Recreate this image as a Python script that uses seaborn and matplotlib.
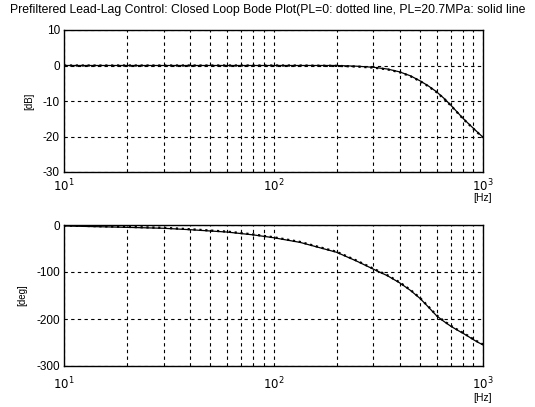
import matplotlib
matplotlib.use("Agg")
import matplotlib.pyplot as plt
import seaborn as sns
import numpy as np
import pandas as pd
from matplotlib.ticker import LogLocator, FixedLocator, FixedFormatter, NullFormatter

freq_hz = [10, 20, 30, 40, 60, 80, 100, 134, 200, 250, 300, 350, 400, 450, 500, 550, 600, 650, 700, 750, 800, 850, 900, 950, 1000]
mag_solid_db = [0, 0, 0, 0, 0, 0, 0, 0, 0, -0.2, -0.5, -1.0, -1.8, -2.9, -4.3, -5.8, -7.4, -9.2, -11.1, -13.0, -14.8, -16.3, -17.7, -19.0, -20.2]
mag_dotted_db = [0, 0, 0, 0, 0, 0, 0, 0, -0.1, -0.3, -0.6, -1.1, -1.9, -3.0, -4.4, -5.9, -7.5, -9.3, -11.2, -13.1, -14.9, -16.4, -17.8, -19.1, -20.3]
phase_solid_deg = [-2, -5, -7, -10, -15, -21, -27, -37, -58, -77, -94, -108, -123, -139, -156, -175, -193, -205, -215, -223, -230, -237, -244, -250, -255]
phase_dotted_deg = [-1, -4, -6, -9, -14, -20, -26, -36, -57, -76, -93, -107, -122, -138, -155, -174, -192, -204, -214, -222, -229, -236, -243, -249, -254]

title = "Prefiltered Lead-Lag Control: Closed Loop Bode Plot(PL=0: dotted line, PL=20.7MPa: solid line"
mag_yticks = [10, 0, -10, -20, -30]
phase_yticks = [0, -100, -200, -300]
xtick_vals = [10, 100, 1000]
xtick_labels = [r"$10^1$", r"$10^2$", r"$10^3$"]

sns.set_theme(style="white")
plt.rcParams['font.family'] = ['Liberation Sans', 'DejaVu Sans']

fig = plt.figure(figsize=(5.35, 4.07), dpi=100)
W, H = 535, 407
ax1 = fig.add_axes([64 / W, 1 - 172 / H, 419 / W, 142 / H])
ax2 = fig.add_axes([64 / W, 1 - 366 / H, 419 / W, 141 / H])

df = pd.DataFrame({"f": freq_hz, "ms": mag_solid_db, "md": mag_dotted_db,
                   "ps": phase_solid_deg, "pd": phase_dotted_deg})

sns.lineplot(data=df, x="f", y="md", ax=ax1, color="black", linestyle=":", linewidth=1.6)
sns.lineplot(data=df, x="f", y="ms", ax=ax1, color="black", linestyle="-", linewidth=0.9)
sns.lineplot(data=df, x="f", y="pd", ax=ax2, color="black", linestyle=":", linewidth=1.6)
sns.lineplot(data=df, x="f", y="ps", ax=ax2, color="black", linestyle="-", linewidth=0.9)

for ax, yt, ylab, hz_y, xpad in [(ax1, mag_yticks, "[dB]", -0.185, 4), (ax2, phase_yticks, "[deg]", -0.225, 7)]:
    ax.set_xscale("log")
    ax.set_xlim(10, 1000)
    ax.set_ylim(min(yt), max(yt))
    ax.yaxis.set_major_locator(FixedLocator(yt))
    ax.set_yticklabels([str(v) for v in yt])
    ax.xaxis.set_major_locator(FixedLocator(xtick_vals))
    ax.xaxis.set_major_formatter(FixedFormatter(xtick_labels))
    ax.xaxis.set_minor_locator(LogLocator(base=10, subs=np.arange(2, 10)))
    ax.xaxis.set_minor_formatter(NullFormatter())
    ax.grid(True, which="both", axis="x", color="black", linestyle=(0, (3, 3)), linewidth=0.8)
    ax.grid(True, which="major", axis="y", color="black", linestyle=(0, (3, 3)), linewidth=0.8)
    ax.tick_params(axis="y", which="both", length=0, labelsize=8.5, colors="black", pad=3)
    ax.tick_params(axis="x", which="both", length=0, labelsize=8.5, colors="black", pad=xpad)
    for s in ax.spines.values():
        s.set_color("black")
        s.set_linewidth(1.0)
    ax.set_xlabel("")
    ax.set_ylabel(ylab, fontsize=7, color="black", labelpad=6)
    ax.text(1.0, hz_y, "[Hz]", transform=ax.transAxes, ha="center", va="center", fontsize=7.5, color="black")

fig.text(0.5, 1 - 10 / H, title, ha="center", va="center", fontsize=8.8, color="black")

fig.savefig("out.png", dpi=100)
